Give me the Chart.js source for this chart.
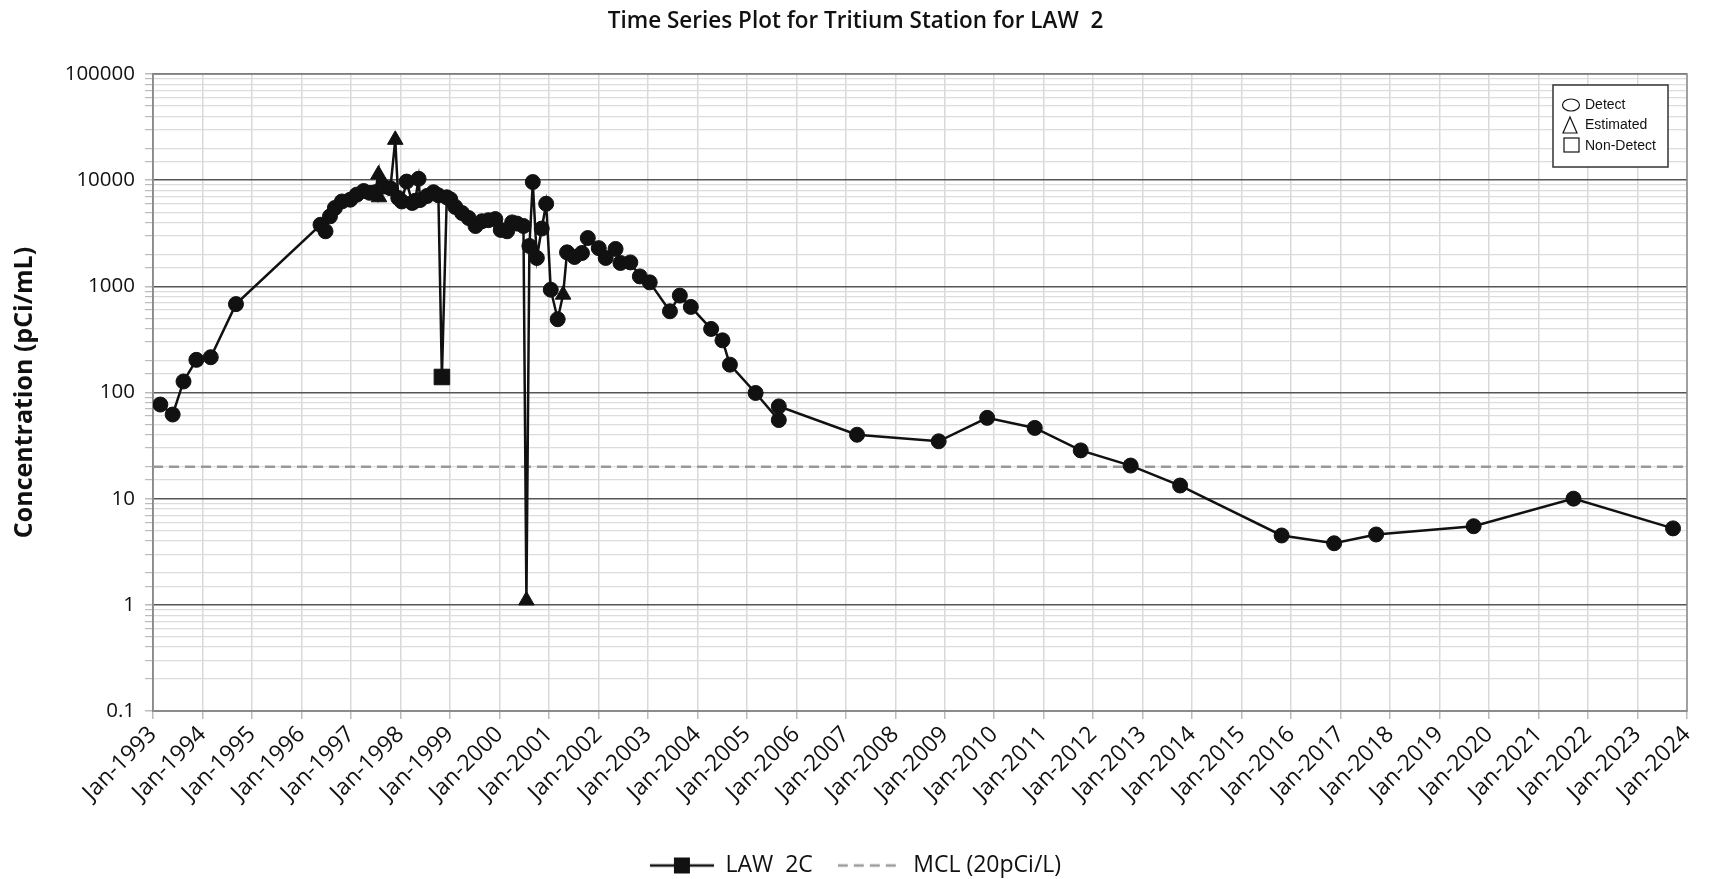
<!DOCTYPE html>
<html>
<head>
<meta charset="utf-8">
<title>Time Series Plot for Tritium Station for LAW 2</title>
<script src="https://cdn.jsdelivr.net/npm/chart.js@4.4.1/dist/chart.umd.min.js"></script>
<style>
  html, body { margin: 0; padding: 0; background: #fff; }
</style>
</head>
<body>
<canvas id="mycanvas" width="1711" height="879"></canvas>
<script>
// Sample dates (yyyy-mm-dd)
var sampleDates = [
  '1993-02-24', '1993-05-26', '1993-08-14', '1993-11-17', '1994-03-03', '1994-09-05',
  '1996-05-21', '1996-06-27', '1996-07-30', '1996-09-04', '1996-10-26', '1996-12-27',
  '1997-02-13', '1997-04-05', '1997-05-19', '1997-06-28', '1997-07-23', '1997-07-27',
  '1997-08-29', '1997-10-19', '1997-11-24', '1997-12-16', '1998-01-11', '1998-02-16',
  '1998-03-29', '1998-04-20', '1998-05-15', '1998-05-26', '1998-07-16', '1998-09-02',
  '1998-10-08', '1998-11-03', '1998-12-09', '1999-01-04', '1999-02-09', '1999-04-01',
  '1999-05-19', '1999-07-09', '1999-08-25', '1999-10-12', '1999-12-02', '2000-01-11',
  '2000-02-27', '2000-04-04', '2000-05-10', '2000-06-27', '2000-07-19', '2000-08-10',
  '2000-09-04', '2000-10-04', '2000-11-09', '2000-12-12', '2001-01-15', '2001-03-07',
  '2001-04-16', '2001-05-15', '2001-07-09', '2001-09-02', '2001-10-15', '2002-01-04',
  '2002-02-24', '2002-05-08', '2002-06-13', '2002-08-25', '2002-11-03', '2003-01-15',
  '2003-06-13', '2003-08-25', '2003-11-14', '2004-04-12', '2004-07-05', '2004-08-29',
  '2005-03-07', '2005-08-25', '2005-08-25', '2007-03-25', '2008-11-17', '2009-11-10',
  '2010-10-27', '2011-10-01', '2012-10-04', '2013-10-04', '2015-10-23', '2016-11-14',
  '2017-09-20', '2019-09-09', '2021-09-16', '2023-09-20'
];
// Tritium results (pCi/mL)
var tritium = [
  77, 62, 127, 203, 215, 680,
  3800, 3300, 4560, 5470, 6300, 6550,
  7300, 7900, 7600, 7700, 11300, 6900,
  8700, 8400, 24000, 6800, 6300, 9700,
  6100, 6400, 10300, 6500, 7100, 7700,
  7200, 140, 6900, 6600, 5600, 4900,
  4400, 3700, 4100, 4200, 4300, 3400,
  3300, 4000, 3900, 3700, 1.1, 2400,
  9600, 1850, 3500, 6000, 930, 490,
  835, 2090, 1890, 2060, 2850, 2290,
  1850, 2250, 1660, 1680, 1240, 1090,
  582, 818, 640, 397, 310, 183,
  99, 55, 74, 40, 34.7, 57.7,
  46.4, 28.5, 20.5, 13.3, 4.5, 3.8,
  4.6, 5.5, 10, 5.25
];
// Qualifier: D = detect, E = estimated, N = non-detect
var qualifier = [
  'D','D','D','D','D','D',
  'D','D','D','D','D','D',
  'D','D','D','D','E','E',
  'D','D','E','D','D','D',
  'D','D','D','D','D','D',
  'D','N','D','D','D','D',
  'D','D','D','D','D','D',
  'D','D','D','D','E','D',
  'D','D','D','D','D','D',
  'E','D','D','D','D','D',
  'D','D','D','D','D','D',
  'D','D','D','D','D','D',
  'D','D','D','D','D','D',
  'D','D','D','D','D','D',
  'D','D','D','D'
];
// MCL reference line
var mclValue = 20;
var mclDates = ['1993-01-01', '2024-01-01'];
// Axis range
var firstYear = 1993;
var lastYear = 2024;
var yMin = 0.1;
var yMax = 100000;

Chart.defaults.font.family = '"Open Sans", "Noto Sans", sans-serif';
Chart.defaults.color = '#111';

// date string -> decimal year
function toYear(s)
{
  var p = s.split('-');
  var y = +p[0];
  var start = Date.UTC(y, 0, 1);
  var end = Date.UTC(y + 1, 0, 1);
  return y + (Date.UTC(y, +p[1] - 1, +p[2]) - start) / (end - start);
}

function isDecade(v)
{
  var l = Math.log10(v);
  return Math.abs(l - Math.round(l)) < 1e-9;
}

var styleOf = { D: 'circle', E: 'triangle', N: 'rect' };
var sizeOf = { D: 7.5, E: 9, N: 11 };

var lawPoints = [];
for (var i = 0; i < tritium.length; i++)
{
  lawPoints.push({ x: toYear(sampleDates[i]), y: tritium[i] });
}
var mclPoints = [];
for (var j = 0; j < mclDates.length; j++)
{
  mclPoints.push({ x: toYear(mclDates[j]), y: mclValue });
}

// little pictures for the bottom legend (line + marker)
function legendSwatch(color, dashed, square)
{
  var c = document.createElement('canvas');
  c.width = 64;
  c.height = 20;
  var g = c.getContext('2d');
  g.strokeStyle = color;
  g.lineWidth = 2.5;
  if (dashed) g.setLineDash([10, 6]);
  g.beginPath();
  g.moveTo(0, 10);
  g.lineTo(64, 10);
  g.stroke();
  if (square)
  {
    g.fillStyle = color;
    g.fillRect(24, 2, 16, 16);
  }
  return c;
}

// grey frame round the plot
var framePlugin = {
  id: 'frame',
  beforeDatasetsDraw: function(chart)
  {
    var a = chart.chartArea;
    var ctx = chart.ctx;
    ctx.save();
    ctx.strokeStyle = '#8a8a8a';
    ctx.lineWidth = 1.5;
    ctx.strokeRect(a.left, a.top, a.right - a.left, a.bottom - a.top);
    ctx.restore();
  }
};

// marker key in the top right corner
var keyPlugin = {
  id: 'markerKey',
  afterDraw: function(chart)
  {
    var a = chart.chartArea;
    var ctx = chart.ctx;
    var left = a.right - 134;
    var top = a.top + 11;
    var w = 115;
    var h = 82;
    ctx.save();
    ctx.fillStyle = '#fff';
    ctx.fillRect(left, top, w, h);
    ctx.strokeStyle = '#333';
    ctx.lineWidth = 1.5;
    ctx.strokeRect(left, top, w, h);

    ctx.lineWidth = 1.2;
    ctx.strokeStyle = '#111';
    // circle
    ctx.beginPath();
    ctx.ellipse(left + 18, top + 20, 8.5, 6, 0, 0, Math.PI * 2);
    ctx.stroke();
    // triangle
    ctx.beginPath();
    ctx.moveTo(left + 17, top + 32);
    ctx.lineTo(left + 10, top + 48);
    ctx.lineTo(left + 24, top + 48);
    ctx.closePath();
    ctx.stroke();
    // square
    ctx.strokeRect(left + 11, top + 53, 15, 14);

    ctx.fillStyle = '#111';
    ctx.font = '14px "Liberation Sans", Arial, sans-serif';
    ctx.textBaseline = 'middle';
    ctx.fillText('Detect', left + 32, top + 20);
    ctx.fillText('Estimated', left + 32, top + 40);
    ctx.fillText('Non-Detect', left + 32, top + 61);
    ctx.restore();
  }
};

var ctx = document.getElementById('mycanvas');
var lineGraph = new Chart(ctx,
{
  type: 'line',
  data: {
    datasets: [
      {
        label: 'LAW  2C',
        data: lawPoints,
        borderColor: '#111',
        backgroundColor: '#111',
        borderWidth: 2.5,
        pointStyle: qualifier.map(function(q) { return styleOf[q]; }),
        pointRadius: qualifier.map(function(q) { return sizeOf[q]; }),
        pointBackgroundColor: '#111',
        pointBorderColor: '#111',
        pointBorderWidth: 1,
        fill: false,
        tension: 0
      },
      {
        label: 'MCL (20pCi/L)',
        data: mclPoints,
        borderColor: '#999',
        borderWidth: 2.5,
        borderDash: [10, 6],
        pointRadius: 0,
        fill: false
      }
    ]
  },
  options: {
    responsive: false,
    animation: false,
    layout: { padding: { left: 24, right: 24, top: 0, bottom: -8 } },
    plugins: {
      title: {
        display: true,
        text: 'Time Series Plot for Tritium Station for LAW  2',
        font: { size: 22.5, weight: '600' },
        color: '#111',
        padding: { top: 8, bottom: 39 }
      },
      legend: {
        position: 'bottom',
        labels: {
          usePointStyle: true,
          pointStyleWidth: 64,
          padding: 25,
          font: { size: 23 },
          color: '#111',
          generateLabels: function(chart)
          {
            return [
              { text: 'LAW  2C', pointStyle: legendSwatch('#111', false, true), datasetIndex: 0, hidden: false, lineWidth: 0, fontColor: '#111' },
              { text: 'MCL (20pCi/L)', pointStyle: legendSwatch('#999', true, false), datasetIndex: 1, hidden: false, lineWidth: 0, fontColor: '#111' }
            ];
          }
        }
      },
      tooltip: { enabled: false }
    },
    scales: {
      x: {
        type: 'linear',
        min: firstYear,
        max: lastYear,
        afterFit: function(scale) { scale.height = 118; },
        ticks: {
          stepSize: 1,
          autoSkip: false,
          maxRotation: 45,
          minRotation: 45,
          padding: 2,
          font: { size: 23 },
          color: '#111',
          callback: function(v) { return 'Jan-' + v; }
        },
        grid: { color: '#d9d9d9', lineWidth: 1.5, tickLength: 8, tickColor: '#bbb' },
        border: { color: '#8a8a8a', width: 1.5 }
      },
      y: {
        type: 'logarithmic',
        min: yMin,
        max: yMax,
        afterFit: function(scale) { scale.width = 129; },
        title: {
          display: true,
          text: 'Concentration (pCi/mL)',
          font: { size: 25, weight: 'bold' },
          color: '#111',
          padding: { top: -14, bottom: 4 }
        },
        ticks: {
          autoSkip: false,
          padding: 10,
          font: { size: 20.5 },
          color: '#111',
          callback: function(v) { return isDecade(v) ? String(+v.toPrecision(6)) : ''; }
        },
        grid: {
          tickLength: 8,
          color: function(c) { return c.tick && isDecade(c.tick.value) ? '#555' : '#dcdcdc'; },
          lineWidth: function(c) { return c.tick && isDecade(c.tick.value) ? 1.5 : 1.2; },
          tickColor: '#bbb'
        },
        border: { color: '#8a8a8a', width: 1.5 }
      }
    }
  },
  plugins: [framePlugin, keyPlugin]
});
</script>
</body>
</html>
